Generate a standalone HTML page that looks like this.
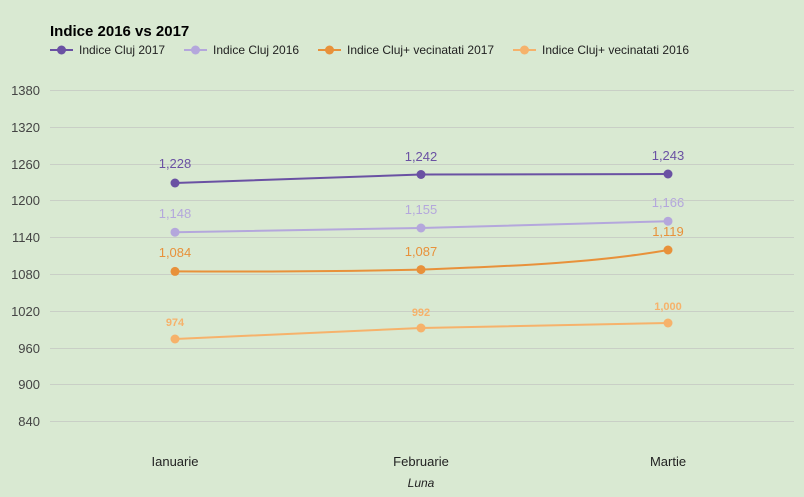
<!DOCTYPE html>
<html><head><meta charset="utf-8"><style>
body{margin:0;background:#d9e9d2;}
svg{display:block;font-family:"Liberation Sans",sans-serif;}
</style></head><body>
<svg width="804" height="497" viewBox="0 0 804 497">
<rect width="804" height="497" fill="#d9e9d2"/>
<text x="50" y="36" font-size="15" font-weight="bold" fill="#000">Indice 2016 vs 2017</text>
<g font-size="12" fill="#222">
<line x1="50" y1="50" x2="73" y2="50" stroke="#6a51a3" stroke-width="2"/><circle cx="61.5" cy="50" r="4.5" fill="#6a51a3"/><text x="79" y="54">Indice Cluj 2017</text>
<line x1="184" y1="50" x2="207" y2="50" stroke="#b4a7dc" stroke-width="2"/><circle cx="195.5" cy="50" r="4.5" fill="#b4a7dc"/><text x="213" y="54">Indice Cluj 2016</text>
<line x1="318" y1="50" x2="341" y2="50" stroke="#e8913a" stroke-width="2"/><circle cx="329.5" cy="50" r="4.5" fill="#e8913a"/><text x="347" y="54">Indice Cluj+ vecinatati 2017</text>
<line x1="513" y1="50" x2="536" y2="50" stroke="#f6b26b" stroke-width="2"/><circle cx="524.5" cy="50" r="4.5" fill="#f6b26b"/><text x="542" y="54">Indice Cluj+ vecinatati 2016</text>
</g>
<g stroke="#c9cfc6" stroke-width="1">
<line x1="50" x2="794" y1="90.5" y2="90.5"/><line x1="50" x2="794" y1="127.5" y2="127.5"/><line x1="50" x2="794" y1="164.5" y2="164.5"/><line x1="50" x2="794" y1="200.5" y2="200.5"/><line x1="50" x2="794" y1="237.5" y2="237.5"/><line x1="50" x2="794" y1="274.5" y2="274.5"/><line x1="50" x2="794" y1="311.5" y2="311.5"/><line x1="50" x2="794" y1="348.5" y2="348.5"/><line x1="50" x2="794" y1="384.5" y2="384.5"/><line x1="50" x2="794" y1="421.5" y2="421.5"/>
</g>
<g font-size="13" fill="#444" text-anchor="end">
<text x="40" y="95">1380</text><text x="40" y="132">1320</text><text x="40" y="169">1260</text><text x="40" y="205">1200</text><text x="40" y="242">1140</text><text x="40" y="279">1080</text><text x="40" y="316">1020</text><text x="40" y="353">960</text><text x="40" y="389">900</text><text x="40" y="426">840</text>
</g>
<g font-size="13" fill="#222" text-anchor="middle">
<text x="175" y="466">Ianuarie</text><text x="421" y="466">Februarie</text><text x="668" y="466">Martie</text>
<text x="421" y="487" font-style="italic" font-size="12">Luna</text>
</g>
<g fill="none" stroke-width="2">
<path d="M175 183 L421 174.5 L668 174" stroke="#6a51a3"/>
<path d="M175 232.2 L421 228 L668 221.2" stroke="#b4a7dc"/>
<path d="M175 271.4 C300 272 360 271 421 269.6 C520 266 600 262 668 250" stroke="#e8913a"/>
<path d="M175 339 L421 328 L668 323" stroke="#f6b26b"/>
</g>
<g fill="#6a51a3"><circle cx="175" cy="183" r="4.5"/><circle cx="421" cy="174.5" r="4.5"/><circle cx="668" cy="174" r="4.5"/></g>
<g fill="#b4a7dc"><circle cx="175" cy="232.2" r="4.5"/><circle cx="421" cy="228" r="4.5"/><circle cx="668" cy="221.2" r="4.5"/></g>
<g fill="#e8913a"><circle cx="175" cy="271.4" r="4.5"/><circle cx="421" cy="269.6" r="4.5"/><circle cx="668" cy="250" r="4.5"/></g>
<g fill="#f6b26b"><circle cx="175" cy="339" r="4.5"/><circle cx="421" cy="328" r="4.5"/><circle cx="668" cy="323" r="4.5"/></g>
<g font-size="13" text-anchor="middle">
<g fill="#6a51a3"><text x="175" y="168">1,228</text><text x="421" y="161">1,242</text><text x="668" y="160">1,243</text></g>
<g fill="#b4a7dc"><text x="175" y="218">1,148</text><text x="421" y="214">1,155</text><text x="668" y="207">1,166</text></g>
<g fill="#e8913a"><text x="175" y="257">1,084</text><text x="421" y="256">1,087</text><text x="668" y="236">1,119</text></g>
<g fill="#f6b26b" font-size="11" font-weight="bold"><text x="175" y="326">974</text><text x="421" y="316">992</text><text x="668" y="310">1,000</text></g>
</g>
</svg>
</body></html>
